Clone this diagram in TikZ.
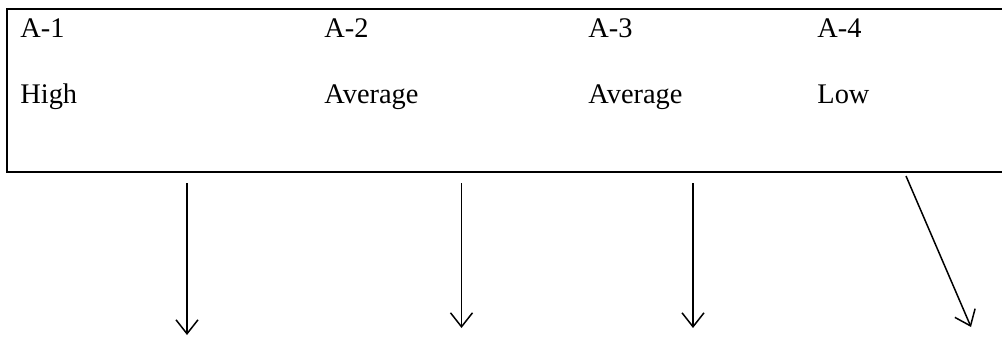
\documentclass[tikz,border=0pt]{standalone}
\usepackage{fontspec}
\setmainfont{Liberation Serif}
\usetikzlibrary{arrows.meta}

\tikzset{
	lbl/.style={anchor=base west, inner sep=0pt, font=\fontsize{14.2pt}{17pt}\selectfont},
	pointer/.style={line width=0.75pt, -{Straight Barb[length=7pt,width=11pt,line width=0.75pt]}}
}

\begin{document}
\begin{tikzpicture}[x=0.5pt,y=-0.5pt]
					\useasboundingbox (0,0) rectangle (1002,337);
					\draw[line width=0.75pt] (1002,9) -- (7,9) -- (7,172) -- (1002,172);
					\node[lbl] at (20,38)   (a1) {A-1};
					\node[lbl] at (324,38)  (a2) {A-2};
					\node[lbl] at (588,38)  (a3) {A-3};
					\node[lbl] at (817,38)  (a4) {A-4};
					\node[lbl] at (20,103)  (l1) {High};
					\node[lbl] at (324,103) (l2) {Average};
					\node[lbl] at (588,103) (l3) {Average};
					\node[lbl] at (817,103) (l4) {Low};
					\coordinate (s1) at (187,183);   \coordinate (e1) at (187,335);
					\coordinate (s2) at (461.5,183); \coordinate (e2) at (461.5,328);
					\coordinate (s3) at (693,183);   \coordinate (e3) at (693,328);
					\coordinate (s4) at (906,176);   \coordinate (e4) at (971,327);
					\draw[pointer] (s1) -- (e1);
					\draw[pointer] (s2) -- (e2);
					\draw[pointer] (s3) -- (e3);
					\draw[pointer] (s4) -- (e4);
				\end{tikzpicture}
\end{document}
